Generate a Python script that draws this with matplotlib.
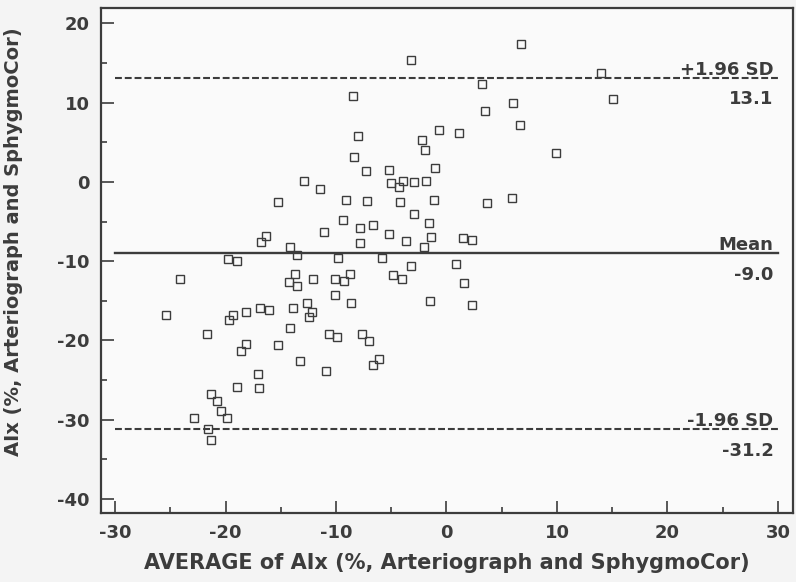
import matplotlib
matplotlib.use("Agg")
import matplotlib.pyplot as plt
from matplotlib.ticker import MultipleLocator

# Bland-Altman data
avg_aix = [-12.87, -11.45, -15.22, -9.37, -16.36, -16.79, -11.11, -14.14, -13.53, -19.80,
           -18.99, -24.12, -13.71, -14.28, -13.50, -12.05, -10.06, -10.06, -12.60, -12.14,
           -12.47, -25.38, -19.66, -19.32, -18.17, -16.85, -16.04, -13.89, -14.16, -21.65,
           -10.63, -9.91, -18.17, -18.62, -15.28, -13.26, -10.90, -17.03, -18.93, -16.94,
           -21.31, -20.80, -20.43, -19.86, -22.85, -21.61, -21.29, -3.21, 6.74, 3.24,
           -8.49, 6.05, 3.51, 6.65, -8.01, -0.65, 1.13, -2.22, -1.95, 9.88,
           -8.40, -7.29, -5.18, -1.04, -5.05, -4.27, -3.91, -2.97, -1.86, -9.12,
           -7.17, -4.21, -1.13, 3.69, 5.95, -7.86, -6.68, -2.97, -1.56, -5.23,
           -7.83, -3.69, -1.38, -2.04, 1.49, 2.34, -9.82, -5.81, -3.24, 0.83,
           -9.25, -8.73, -4.87, -4.03, 1.61, -8.64, -1.49, 2.28, -7.65, -6.99,
           -6.11, -6.62, 13.98, 15.10]
diff_aix = [0.15, -0.90, -2.57, -4.77, -6.78, -7.62, -6.28, -8.25, -9.22, -9.72,
            -9.97, -12.24, -11.61, -12.58, -13.09, -12.21, -12.28, -14.22, -15.31, -16.37,
            -17.00, -16.82, -17.41, -16.78, -16.37, -15.86, -16.15, -15.86, -18.39, -19.22,
            -19.22, -19.60, -20.44, -21.32, -20.61, -22.55, -23.85, -24.19, -25.86, -25.99,
            -26.71, -27.67, -28.89, -29.74, -29.77, -31.16, -32.58, 15.33, 17.39, 12.35,
            10.87, 9.95, 8.90, 7.14, 5.83, 6.58, 6.13, 5.32, 3.98, 3.68,
            3.14, 1.34, 1.54, 1.79, -0.14, -0.64, 0.11, -0.01, 0.15, -2.32,
            -2.41, -2.50, -2.32, -2.62, -1.99, -5.81, -5.43, -4.01, -5.15, -6.61,
            -7.71, -7.45, -6.91, -8.17, -7.07, -7.33, -9.60, -9.63, -10.60, -10.35,
            -12.50, -11.58, -11.70, -12.21, -12.79, -15.31, -15.06, -15.52, -19.22, -20.06,
            -22.30, -23.05, 13.77, 10.42]

mean_diff = -9.0
upper_loa = 13.1
lower_loa = -31.2
line_labels = ["+1.96 SD", "Mean", "-1.96 SD"]
line_values = [upper_loa, mean_diff, lower_loa]

ink = "#3c3c3c"
plt.rcParams["font.family"] = "DejaVu Sans"
plt.rcParams["font.weight"] = "bold"
plt.rcParams["axes.unicode_minus"] = False

fig = plt.figure(figsize=(7.96, 5.82), dpi=100, facecolor="#f4f4f4")
ax = fig.add_axes([0.1269, 0.1186, 0.8693, 0.8671], facecolor="#fafafa")

ax.plot(avg_aix, diff_aix, linestyle="none", marker="s", markersize=6.2,
        markerfacecolor="none", markeredgecolor=ink, markeredgewidth=1.0)

xs = [-30, 30]
ax.plot(xs, [upper_loa, upper_loa], color=ink, lw=1.5, ls=(0, (3.3, 1.4)))
ax.plot(xs, [mean_diff, mean_diff], color=ink, lw=1.7)
ax.plot(xs, [lower_loa, lower_loa], color=ink, lw=1.5, ls=(0, (3.3, 1.4)))

for name, val in zip(line_labels, line_values):
    ax.annotate(name, xy=(29.6, val), xytext=(0, 2.2), textcoords="offset points",
                ha="right", va="baseline", fontsize=13, fontweight="bold", color=ink)
    ax.annotate(f"{val:.1f}", xy=(29.6, val), xytext=(0, -19), textcoords="offset points",
                ha="right", va="baseline", fontsize=13, fontweight="bold", color=ink)

ax.set_xlim(-31.27, 31.36)
ax.set_ylim(-41.77, 21.9)
ax.xaxis.set_major_locator(MultipleLocator(10))
ax.xaxis.set_minor_locator(MultipleLocator(5))
ax.yaxis.set_major_locator(MultipleLocator(10))
ax.yaxis.set_minor_locator(MultipleLocator(5))
ax.tick_params(which="major", direction="in", length=9, width=1.2, color=ink,
               labelsize=13, labelcolor=ink, pad=8)
ax.tick_params(which="minor", direction="in", length=4.5, width=1.2, color=ink)
for lab in ax.get_xticklabels() + ax.get_yticklabels():
    lab.set_fontweight("bold")
for s in ax.spines.values():
    s.set_color(ink)
    s.set_linewidth(1.6)

ax.set_xlabel("AVERAGE of AIx (%, Arteriograph and SphygmoCor)", fontsize=15,
              fontweight="bold", color=ink, labelpad=8)
ax.set_ylabel("AIx (%, Arteriograph and SphygmoCor)", fontsize=14,
              fontweight="bold", color=ink)
ax.yaxis.set_label_coords(-0.113, 0.538)

fig.savefig("out.png", dpi=100, facecolor=fig.get_facecolor())
